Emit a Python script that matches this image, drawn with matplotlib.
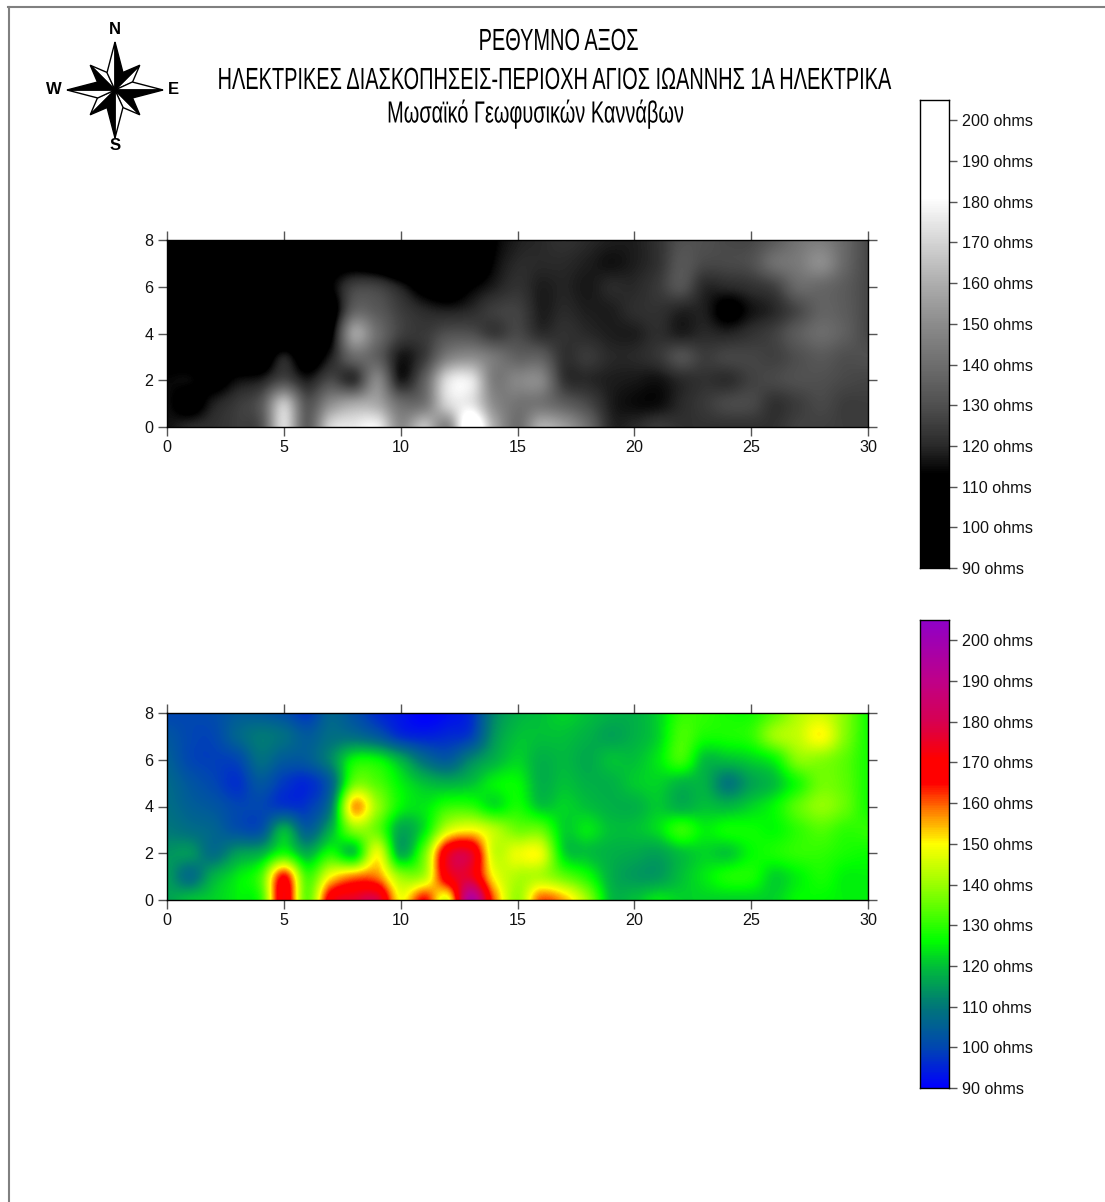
import numpy as np
import matplotlib
matplotlib.use('Agg')
import matplotlib.pyplot as plt
from matplotlib.colors import LinearSegmentedColormap
from matplotlib.patches import Polygon
from matplotlib.patheffects import AbstractPathEffect
from matplotlib.transforms import Affine2D

W, H = 1105, 1202

# Resistivity readings on the survey grid (1 m spacing), rows from y=8 down to y=0
row_y8 = [100, 100, 101, 104, 104, 102, 98, 106, 102, 96, 93, 90, 92, 96, 112, 118, 120, 122, 120, 118, 118, 122, 130, 130, 128, 128, 134, 142, 145, 138, 128]
row_y7 = [103, 100, 100, 106, 110, 108, 104, 108, 108, 104, 97, 95, 96, 99, 114, 120, 120, 120, 118, 116, 118, 122, 132, 128, 128, 130, 140, 144, 150, 138, 128]
row_y6 = [105, 100, 99, 100, 108, 104, 104, 112, 126, 126, 118, 108, 104, 112, 118, 122, 118, 119, 117, 120, 120, 124, 131, 120, 120, 122, 126, 138, 138, 134, 128]
row_y5 = [107, 103, 100, 97, 103, 98, 96, 105, 135, 133, 125, 120, 118, 120, 125, 126, 118, 120, 118, 118, 121, 122, 119, 118, 110, 116, 120, 128, 136, 134, 128]
row_y4 = [108, 105, 103, 100, 100, 98, 98, 110, 155, 140, 126, 124, 130, 130, 124, 128, 121, 122, 120, 118, 118, 121, 118, 120, 119, 122, 126, 134, 139, 135, 128]
row_y3 = [110, 108, 106, 102, 102, 118, 105, 118, 138, 135, 117, 124, 145, 150, 143, 136, 135, 122, 124, 120, 120, 123, 130, 125, 127, 127, 126, 130, 133, 130, 130]
row_y2 = [114, 114, 108, 115, 118, 128, 118, 128, 122, 148, 118, 135, 172, 175, 145, 148, 148, 123, 120, 118, 117, 116, 120, 122, 121, 126, 128, 130, 130, 128, 127]
row_y1 = [115, 108, 118, 124, 132, 165, 132, 150, 158, 158, 140, 142, 170, 175, 150, 142, 142, 135, 128, 118, 115, 115, 120, 124, 128, 128, 122, 125, 128, 125, 125]
row_y0 = [116, 120, 122, 125, 130, 172, 135, 170, 176, 178, 150, 165, 148, 195, 160, 140, 160, 155, 140, 120, 120, 124, 122, 122, 122, 122, 122, 126, 126, 125, 125]

x_ticks = [0, 5, 10, 15, 20, 25, 30]
y_ticks = [0, 2, 4, 6, 8]
bar_ticks = [90, 100, 110, 120, 130, 140, 150, 160, 170, 180, 190, 200]
vmin, vmax = 90, 205

title_lines = ['ΡΕΘΥΜΝΟ ΑΞΟΣ',
               'ΗΛΕΚΤΡΙΚΕΣ ΔΙΑΣΚΟΠΗΣΕΙΣ-ΠΕΡΙΟΧΗ ΑΓΙΟΣ ΙΩΑΝΝΗΣ 1Α ΗΛΕΚΤΡΙΚΑ',
               'Μωσαϊκό Γεωφυσικών Καννάβων']

grey_stops = [(90, '#000000'), (113, '#000000'), (120, '#2a2a2a'), (130, '#505050'), (140, '#6e6e6e'),
              (150, '#8c8c8c'), (160, '#aeaeae'), (170, '#d4d4d4'), (181, '#ffffff'), (205, '#ffffff')]
colour_stops = [(90, '#0000ff'), (100, '#0048b0'), (110, '#007878'), (120, '#00c038'), (126, '#00ff00'),
                (133, '#50ff00'), (142, '#b0ff00'), (150, '#ffff00'), (158, '#ff8000'), (165, '#ff0000'),
                (171, '#ff0000'), (180, '#d80050'), (190, '#c00088'), (205, '#9000c8')]


class Squeeze(AbstractPathEffect):
    # narrow the glyphs around the anchor, there is no condensed font installed
    def __init__(self, factor, centre):
        super().__init__()
        self.factor = factor
        self.centre = centre

    def draw_path(self, renderer, gc, tpath, affine, rgbFace=None):
        squeeze = Affine2D().translate(-self.centre, 0).scale(self.factor, 1).translate(self.centre, 0)
        renderer.draw_path(gc, tpath, affine + squeeze, rgbFace)


def make_cmap(name, stops):
    return LinearSegmentedColormap.from_list(
        name, [((v - vmin) / (vmax - vmin), c) for v, c in stops], N=256)


def px_axes(fig, left, top, right, bottom):
    # axes placed by reference pixel edges
    return fig.add_axes([left / W, 1 - bottom / H, (right - left) / W, (bottom - top) / H])


def draw_map(fig, top, cmap, grid):
    ax = px_axes(fig, 167, top, 868, top + 187)
    ax.imshow(grid, cmap=cmap, vmin=vmin, vmax=vmax, origin='upper', aspect='auto',
              extent=[-0.5, 30.5, -0.5, 8.5], interpolation='catrom')
    ax.set_xlim(0, 30)
    ax.set_ylim(0, 8)
    ax.set_xticks(x_ticks)
    ax.set_yticks(y_ticks)
    ax.tick_params(which='both', direction='out', length=6.2, width=1, color='#555555',
                   top=True, right=True, labelsize=11.6, pad=3.5, labelcolor='#111111')
    for s in ax.spines.values():
        s.set_linewidth(1)
        s.set_color('black')
    return ax


def draw_bar(fig, top, cmap):
    ax = px_axes(fig, 920, top, 949, top + 468)
    values = np.linspace(vmax, vmin, 256).reshape(-1, 1)
    ax.imshow(values, cmap=cmap, vmin=vmin, vmax=vmax, aspect='auto',
              extent=[0, 1, vmin, vmax], interpolation='nearest')
    ax.set_xticks([])
    ax.yaxis.tick_right()
    ax.set_yticks(bar_ticks)
    ax.set_yticklabels([f'{v} ohms' for v in bar_ticks])
    ax.tick_params(axis='y', direction='out', length=6, width=1, color='#555555', labelsize=11.6,
                   pad=3.5, labelcolor='#111111')
    for s in ax.spines.values():
        s.set_linewidth(1)
    return ax


def draw_compass(ax, cx, cy):
    # short rays first, long rays over them
    rays = [(a, 35, 0.5, 7, 3, True) for a in (45, 135, 225, 315)] + \
           [(a, 48, 0.36, 8, 4, False) for a in (0, 90, 180, 270)]
    for deg, length, frac, half, z, flip in rays:
        t = np.radians(deg)
        d = np.array([np.sin(t), -np.cos(t)])
        n = np.array([np.cos(t), np.sin(t)])
        if flip:
            n = -n
        c = np.array([cx, cy])
        tip = c + d * length
        mid = c + d * length * frac
        ax.add_patch(Polygon([c, tip, mid - n * half], closed=True, fc='white', ec='black', lw=1, zorder=z))
        ax.add_patch(Polygon([c, tip, mid + n * half], closed=True, fc='black', ec='black', lw=1, zorder=z))


plt.rcParams['font.family'] = ['Liberation Sans', 'DejaVu Sans']

fig = plt.figure(figsize=(W / 100, H / 100), dpi=100, facecolor='white')

grid = np.array([row_y8, row_y7, row_y6, row_y5, row_y4, row_y3, row_y2, row_y1, row_y0], dtype=float)
grey = make_cmap('grey_ohms', grey_stops)
colour = make_cmap('colour_ohms', colour_stops)

draw_map(fig, 240, grey, grid)
draw_map(fig, 713, colour, grid)
draw_bar(fig, 100, grey)
draw_bar(fig, 620, colour)

# overlay in pixel coordinates for frame, compass and titles
over = fig.add_axes([0, 0, 1, 1], facecolor='none')
over.set_xlim(0, W)
over.set_ylim(H, 0)
over.axis('off')
over.plot([9, 9], [7, H], color='#808080', lw=1.5)
over.plot([8, W], [7, 7], color='#808080', lw=1.5)
draw_compass(over, 115, 90)
for label, x, y in [('N', 115, 30), ('S', 115, 146), ('E', 173.5, 90), ('W', 54, 90)]:
    over.text(x, y, label, ha='center', va='center', fontsize=12, fontweight='bold', color='black')

for line, x, y in zip(title_lines, [558.5, 554, 535], [42, 81, 114]):
    over.text(x, y, line, ha='center', va='center', fontsize=22, color='black',
              path_effects=[Squeeze(0.653, x)])

fig.savefig('out.png', dpi=100)
